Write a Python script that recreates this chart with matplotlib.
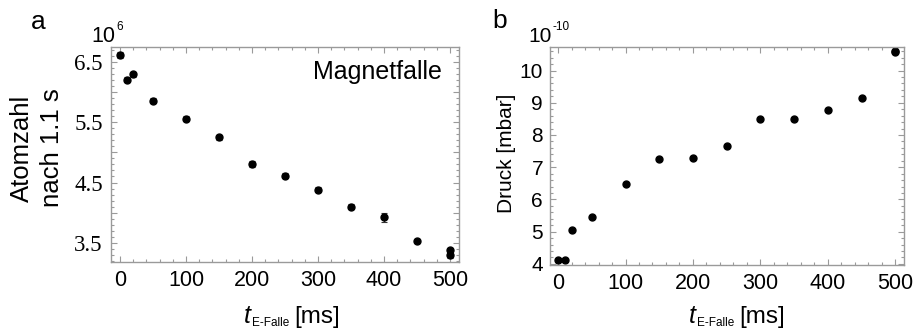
import numpy as np
import matplotlib.pyplot as plt
from matplotlib.ticker import MultipleLocator, FixedLocator, FuncFormatter

# --- data ---
# panel a: atom number after 1.1 s in the magnetic trap (units of 1e6)
t_a = [0, 10, 20, 50, 100, 150, 200, 250, 300, 350, 400, 450, 500, 500]
atoms = [6.61, 6.21, 6.30, 5.86, 5.56, 5.25, 4.81, 4.61, 4.38, 4.10, 3.92, 3.53, 3.38, 3.29]
atoms_err = [0.05, 0.04, 0.04, 0.04, 0.04, 0.04, 0.05, 0.04, 0.04, 0.04, 0.07, 0.04, 0.04, 0.04]

# panel b: pressure (units of 1e-10 mbar)
t_b = [0, 10, 20, 50, 100, 150, 200, 250, 300, 350, 400, 450, 500, 500]
druck = [4.12, 4.12, 5.06, 5.44, 6.47, 7.25, 7.30, 7.66, 8.49, 8.49, 8.79, 9.15, 10.61, 10.56]

x_ticks = [0, 100, 200, 300, 400, 500]
a_yticks = [3.5, 4.0, 4.5, 5.0, 5.5, 6.0, 6.5]
b_yticks = [4, 5, 6, 7, 8, 9, 10]

SANS = "Liberation Sans"
SERIF = "Liberation Serif"
FRAME = "#9a9a9a"
W, H = 923, 331

plt.rcParams["font.family"] = SANS

fig = plt.figure(figsize=(W / 100, H / 100), dpi=100)
ax_a = fig.add_axes([111 / W, 1 - 262 / H, 348 / W, 215 / H])
ax_b = fig.add_axes([550 / W, 1 - 264.5 / H, 354 / W, 217.5 / H])
renderer = fig.canvas.get_renderer()


def px(x, y):
    # pixel position (from top-left) -> figure fraction
    return x / W, 1 - y / H


def chain(x, y, pieces):
    # place text pieces one after another; each piece = (text, size, style, dy, gap)
    for s, size, style, dy, gap in pieces:
        x += gap
        t = fig.text(*px(x, y + dy), s, fontsize=size, style=style, va="baseline")
        x = t.get_window_extent(renderer).x1


def style_frame(ax):
    for s in ax.spines.values():
        s.set_color(FRAME)
        s.set_linewidth(1.0)
    ax.tick_params(which="both", direction="in", top=True, right=True,
                   color=FRAME, width=0.8)
    ax.tick_params(which="major", length=4)
    ax.tick_params(which="minor", length=2)
    ax.tick_params(axis="x", labelsize=15.5, pad=6)
    ax.xaxis.set_major_locator(FixedLocator(x_ticks))
    ax.xaxis.set_minor_locator(MultipleLocator(20))


def t_label(x0):
    # "t_E-Falle [ms]" built from pieces so the subscript can be small
    chain(x0, 323, [("t", 18, "italic", 0, 0),
                    ("E-Falle", 8.5, "normal", 3, 1),
                    ("[ms]", 17.5, "normal", 0, 5)])


# --- panel a ---
ax_a.errorbar(t_a, atoms, yerr=atoms_err, fmt="o", color="black", ms=5,
              ecolor="#333333", elinewidth=1, capsize=2, capthick=0.8)
ax_a.set_xlim(-13.7, 513.6)
ax_a.set_ylim(3.18, 6.75)
style_frame(ax_a)
ax_a.yaxis.set_major_locator(FixedLocator(a_yticks))
ax_a.yaxis.set_minor_locator(MultipleLocator(0.1))
ax_a.yaxis.set_major_formatter(FuncFormatter(
    lambda v, p: f"{v:.1f}" if abs(v * 2 % 2 - 1) < 1e-6 else ""))
ax_a.tick_params(axis="y", labelsize=16.5, pad=6)
for lab in ax_a.get_yticklabels():
    lab.set_fontfamily(SERIF)
ax_a.text(0.951, 0.884, "Magnetfalle", transform=ax_a.transAxes,
          ha="right", va="center", fontsize=18)
fig.text(*px(22, 148), "Atomzahl", fontsize=18.5, rotation=90, ha="center", va="center")
fig.text(*px(52, 148), "nach 1.1 s", fontsize=18.5, rotation=90, ha="center", va="center")
chain(91, 42, [("10", 15.5, "normal", 0, 0), ("6", 8.5, "normal", -12, 1)])
fig.text(*px(38, 22), "a", fontsize=19, ha="center", va="center")
t_label(244)

# --- panel b ---
ax_b.plot(t_b, druck, "o", color="black", ms=5)
ax_b.set_xlim(-12, 513)
ax_b.set_ylim(3.98, 10.73)
style_frame(ax_b)
ax_b.yaxis.set_major_locator(FixedLocator(b_yticks))
ax_b.yaxis.set_minor_locator(MultipleLocator(0.2))
ax_b.tick_params(axis="y", labelsize=15, pad=5)
fig.text(*px(506, 153), "Druck [mbar]", fontsize=15, rotation=90, ha="center", va="center")
chain(528, 42, [("10", 15, "normal", 0, 0), ("-10", 8.5, "normal", -12, 1)])
fig.text(*px(500, 21), "b", fontsize=19, ha="center", va="center")
t_label(689)

fig.savefig("out.png", dpi=100)
